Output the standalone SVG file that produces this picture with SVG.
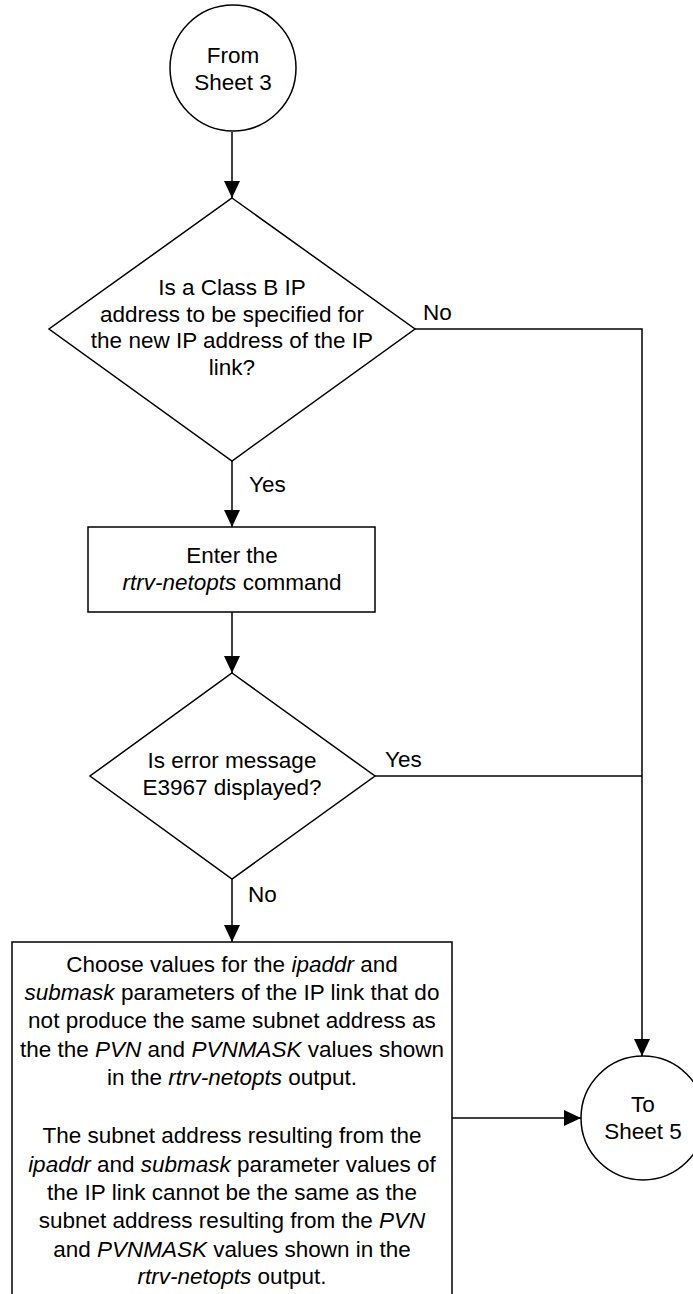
<svg xmlns="http://www.w3.org/2000/svg" width="693" height="1294" viewBox="0 0 693 1294">
<style>
.s{fill:#fff;stroke:#000;stroke-width:1.5}
.c{fill:none;stroke:#000;stroke-width:1.5}
text{font-family:"Liberation Sans",Arial,sans-serif;font-size:22.5px;fill:#000}
.m{text-anchor:middle}
.i{font-style:italic}
</style>
<defs>
<marker id="ah" viewBox="0 0 17 16" refX="17" refY="8" markerWidth="17" markerHeight="16" markerUnits="userSpaceOnUse" orient="auto">
<path d="M0,0 L17,8 L0,16 z" fill="#000"/>
</marker>
</defs>
<rect width="693" height="1294" fill="#fff"/>
<g id="connectors">
<line class="c" x1="232" y1="132" x2="232" y2="198" marker-end="url(#ah)"/>
<line class="c" x1="232" y1="461" x2="232" y2="527" marker-end="url(#ah)"/>
<line class="c" x1="232" y1="612" x2="232" y2="673" marker-end="url(#ah)"/>
<line class="c" x1="232" y1="879" x2="232" y2="942" marker-end="url(#ah)"/>
<polyline class="c" points="415,329 642,329 642,1056" marker-end="url(#ah)"/>
<line class="c" x1="375" y1="776" x2="642" y2="776"/>
<line class="c" x1="452" y1="1118" x2="581" y2="1118" marker-end="url(#ah)"/>
<text x="423" y="320">No</text>
<text x="249" y="492">Yes</text>
<text x="385" y="767">Yes</text>
<text x="248" y="902">No</text>
</g>
<g id="start">
<circle class="s" cx="233" cy="68" r="63"/>
<text class="m" x="233" y="63">From</text>
<text class="m" x="233" y="90">Sheet 3</text>
</g>
<g id="decision1">
<polygon class="s" points="232,198 415,329 232,461 49,329"/>
<text class="m" x="232" y="295">Is a Class B IP</text>
<text class="m" x="232" y="322">address to be specified for</text>
<text class="m" x="232" y="348">the new IP address of the IP</text>
<text class="m" x="232" y="375">link?</text>
</g>
<g id="enter">
<rect class="s" x="88" y="527" width="287" height="85"/>
<text class="m" x="232" y="563">Enter the</text>
<text class="m" x="232" y="590"><tspan class="i">rtrv-netopts</tspan> command</text>
</g>
<g id="decision2">
<polygon class="s" points="232,673 375,776 232,879 90,776"/>
<text class="m" x="232" y="768">Is error message</text>
<text class="m" x="232" y="795">E3967 displayed?</text>
</g>
<g id="choose">
<rect class="s" x="12" y="942" width="440" height="360"/>
<text class="m" x="232" y="972">Choose values for the <tspan class="i">ipaddr</tspan> and</text>
<text class="m" x="232" y="1000"><tspan class="i">submask</tspan> parameters of the IP link that do</text>
<text class="m" x="232" y="1028">not produce the same subnet address as</text>
<text class="m" x="232" y="1057">the the <tspan class="i">PVN</tspan> and <tspan class="i">PVNMASK</tspan> values shown</text>
<text class="m" x="232" y="1085">in the <tspan class="i">rtrv-netopts</tspan> output.</text>
<text class="m" x="232" y="1143">The subnet address resulting from the</text>
<text class="m" x="232" y="1172"><tspan class="i">ipaddr</tspan> and <tspan class="i">submask</tspan> parameter values of</text>
<text class="m" x="232" y="1200">the IP link cannot be the same as the</text>
<text class="m" x="232" y="1228">subnet address resulting from the <tspan class="i">PVN</tspan></text>
<text class="m" x="232" y="1257">and <tspan class="i">PVNMASK</tspan> values shown in the</text>
<text class="m" x="232" y="1284"><tspan class="i">rtrv-netopts</tspan> output.</text>
</g>
<g id="end">
<circle class="s" cx="643" cy="1118" r="62"/>
<text class="m" x="643" y="1112">To</text>
<text class="m" x="643" y="1139">Sheet 5</text>
</g>
</svg>
